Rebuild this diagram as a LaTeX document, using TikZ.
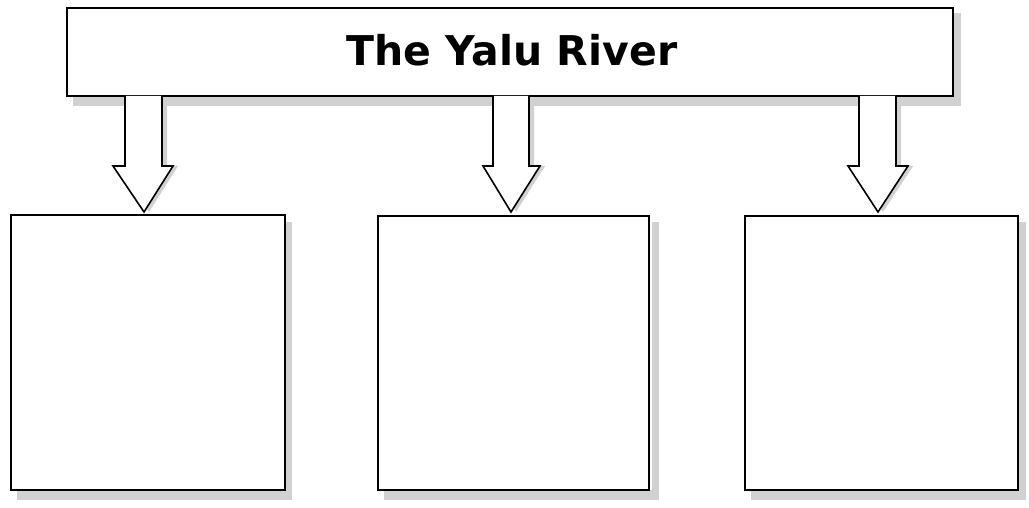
\documentclass[tikz,border=0pt]{standalone}
\usepackage{fontspec}
\setmainfont{DejaVu Sans}
\begin{document}
\begin{tikzpicture}[x=1pt,y=-1pt,
  shade/.style={fill=black!18,draw=none},
  bbox/.style={draw=black,line width=2.8pt,fill=white},
  tbox/.style={draw=black,line width=2pt,fill=white},
  barrow/.style={draw=black,line width=1.6pt,fill=white,line join=miter}]
\useasboundingbox (0,0) rectangle (1029,508);
% shadows
\fill[shade] (73,97) rectangle (961,106);
\fill[shade] (953,13) rectangle (961,106);
\foreach \xo in {0,367,734}{
  \fill[shade] (17+\xo,490) rectangle (292+\xo,500);
  \fill[shade] (285+\xo,222) rectangle (292+\xo,500);
}
\foreach \l/\r/\hl/\hr/\t in {125/162/113/173/144, 493/529/483/540/511, 859/896/848/908/878}{
  \fill[shade] (\l+5,97) -- (\r+5,97) -- (\r+5,166) -- (\hr+5,166) -- (\t+5,212) -- (\hl+5,166) -- (\l+5,166) -- cycle;
}
% title box
\node[tbox,minimum width=886pt,minimum height=88pt,inner sep=0pt] (title) at (510,52) {};
\node[font=\bfseries\fontsize{41}{44}\selectfont,anchor=base] (ttl) at (512,66) {The Yalu River};
% lower boxes
\node[bbox,minimum width=274pt,minimum height=275pt,inner sep=0pt] (b1) at (148,352.5) {};
\node[bbox,minimum width=271pt,minimum height=274pt,inner sep=0pt] (b2) at (513.5,353) {};
\node[bbox,minimum width=273pt,minimum height=274pt,inner sep=0pt] (b3) at (881.5,353) {};
% block arrows
\foreach \l/\r/\hl/\hr/\t in {125/162/113/173/144, 493/529/483/540/511, 859/896/848/908/878}{
  \draw[barrow] (\l,96) -- (\l,166) -- (\hl,166) -- (\t,212) -- (\hr,166) -- (\r,166) -- (\r,96);
}
\end{tikzpicture}
\end{document}
